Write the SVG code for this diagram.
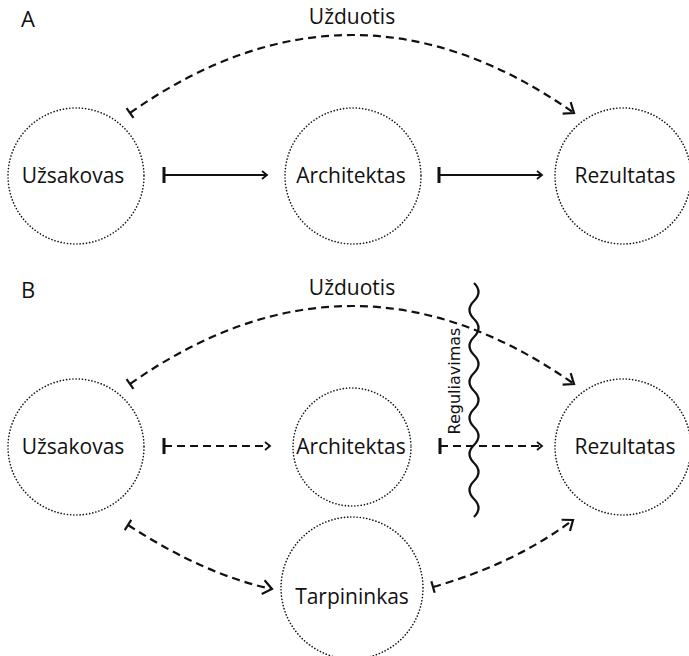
<svg xmlns="http://www.w3.org/2000/svg" width="689" height="656" viewBox="0 0 689 656">
<style>
.node{fill:none;stroke:#111;stroke-width:1.6;stroke-dasharray:0.1 3.1;stroke-linecap:round}
.lbl{font-family:"Open Sans","Noto Sans",sans-serif;font-size:21px;fill:#111;text-anchor:middle;font-variant-ligatures:none}
.sec{font-family:"Open Sans","Noto Sans",sans-serif;font-size:22px;fill:#111}
.solid{fill:none;stroke:#111;stroke-width:2}
.dash{fill:none;stroke:#111;stroke-width:2.2;stroke-dasharray:8 5}
.sdash{fill:none;stroke:#111;stroke-width:2;stroke-dasharray:8 5}
.wave{fill:none;stroke:#111;stroke-width:2.2}
.reg{font-family:"DejaVu Sans",sans-serif;font-size:16px;fill:#111;text-anchor:middle}
</style>
<defs>
<marker id="teeS" markerUnits="userSpaceOnUse" markerWidth="10" markerHeight="20" viewBox="-5 -10 10 20" refX="0" refY="0" orient="auto">
<path d="M0,-8 L0,8" stroke="#111" stroke-width="3" fill="none"/>
</marker>
<marker id="teeC" markerUnits="userSpaceOnUse" markerWidth="10" markerHeight="16" viewBox="-5 -8 10 16" refX="0" refY="0" orient="auto">
<path d="M0,-6 L0,6" stroke="#111" stroke-width="2.2" fill="none"/>
</marker>
<marker id="arS" markerUnits="userSpaceOnUse" markerWidth="12" markerHeight="12" viewBox="-8 -6 12 12" refX="0" refY="0" orient="auto">
<path d="M-5,-4 L0,0 L-5,4" stroke="#111" stroke-width="1.8" fill="none"/>
</marker>
<marker id="arC" markerUnits="userSpaceOnUse" markerWidth="20" markerHeight="20" viewBox="-12 -10 16 20" refX="0" refY="0" orient="auto">
<path d="M-9,-7 L0,0 L-9,7" stroke="#111" stroke-width="2.2" fill="none"/>
</marker>
</defs>

<text class="sec" x="21" y="27">A</text>
<text class="sec" x="21" y="298">B</text>

<g id="A-uzsakovas"><circle class="node" cx="76" cy="176" r="68"/><text class="lbl" x="73" y="183">Užsakovas</text></g>
<g id="A-architektas"><circle class="node" cx="353" cy="176" r="68"/><text class="lbl" x="351" y="183">Architektas</text></g>
<g id="A-rezultatas"><circle class="node" cx="623" cy="176" r="68"/><text class="lbl" x="625" y="183">Rezultatas</text></g>

<g id="B-uzsakovas"><circle class="node" cx="76" cy="447" r="68"/><text class="lbl" x="73" y="454">Užsakovas</text></g>
<g id="B-architektas"><circle class="node" cx="352" cy="447" r="59"/><text class="lbl" x="351" y="454">Architektas</text></g>
<g id="B-rezultatas"><circle class="node" cx="623" cy="447" r="68"/><text class="lbl" x="625" y="454">Rezultatas</text></g>
<g id="B-tarpininkas"><circle class="node" cx="352" cy="588" r="71"/><text class="lbl" x="352" y="604">Tarpininkas</text></g>

<g id="connectors">
<path class="dash" d="M130,113 Q352,-43 574,113" marker-start="url(#teeC)" marker-end="url(#arC)"/>
<text class="lbl" x="352" y="24">Užduotis</text>
<path class="solid" d="M164,175 L267,175" marker-start="url(#teeS)" marker-end="url(#arS)"/>
<path class="solid" d="M439,175 L542,175" marker-start="url(#teeS)" marker-end="url(#arS)"/>

<path class="dash" d="M130,384 Q352,228 574,384" marker-start="url(#teeC)" marker-end="url(#arC)"/>
<text class="lbl" x="352" y="295">Užduotis</text>
<path class="sdash" d="M164,446 L270,446" marker-start="url(#teeS)" marker-end="url(#arS)"/>
<path class="sdash" d="M440,446 L542,446" marker-start="url(#teeS)" marker-end="url(#arS)"/>
<path class="dash" d="M128,525 Q205,575 272,589" marker-start="url(#teeC)" marker-end="url(#arC)"/>
<path class="dash" d="M433,587 Q514,564 573,520" marker-start="url(#teeC)" marker-end="url(#arC)"/>

<path class="wave" d="M474,283 q9,9 0,18 t0,18 t0,18 t0,18 t0,18 t0,18 t0,18 t0,18 t0,18 t0,18 t0,18 t0,18 t0,18"/>
<text class="reg" transform="translate(460,381) rotate(-90)" x="0" y="0">Reguliavimas</text>
</g>
</svg>
